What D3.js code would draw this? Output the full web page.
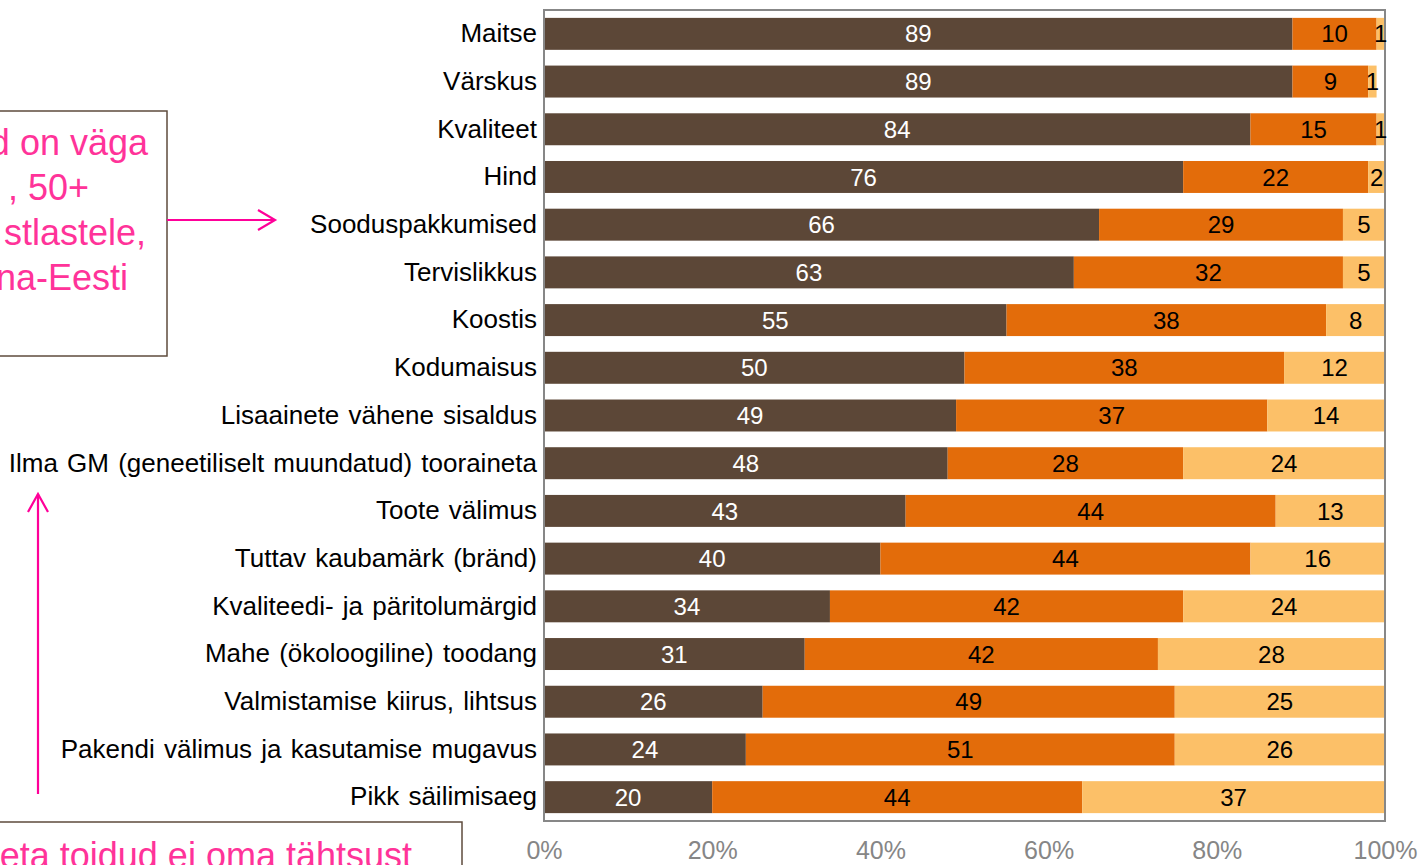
<!DOCTYPE html>
<html>
<head>
<meta charset="utf-8">
<script src="https://cdn.jsdelivr.net/npm/d3@7"></script>
<style>
  html, body { margin: 0; padding: 0; background: #fff; overflow: hidden; }
  svg { display: block; font-family: "Liberation Sans", Arial, sans-serif; }
</style>
</head>
<body>
<svg id="chart" width="1422" height="865"></svg>
<script>
// Food choice factors: share of respondents (%) by importance level
const categories = [
  "Maitse", "Värskus", "Kvaliteet", "Hind", "Sooduspakkumised", "Tervislikkus",
  "Koostis", "Kodumaisus", "Lisaainete vähene sisaldus",
  "Ilma GM (geneetiliselt muundatud) tooraineta", "Toote välimus",
  "Tuttav kaubamärk (bränd)", "Kvaliteedi- ja päritolumärgid",
  "Mahe (ökoloogiline) toodang", "Valmistamise kiirus, lihtsus",
  "Pakendi välimus ja kasutamise mugavus", "Pikk säilimisaeg"
];
const veryImportant = [89, 89, 84, 76, 66, 63, 55, 50, 49, 48, 43, 40, 34, 31, 26, 24, 20];
const important     = [10,  9, 15, 22, 29, 32, 38, 38, 37, 28, 44, 44, 42, 42, 49, 51, 44];
const notImportant  = [ 1,  1,  1,  2,  5,  5,  8, 12, 14, 24, 13, 16, 24, 28, 25, 26, 37];
const tickValues = [0, 20, 40, 60, 80, 100];

const seriesKeys = ["veryImportant", "important", "notImportant"];
const seriesColors = ["#5C4737", "#E36C0A", "#FCC068"];
const labelColors = ["#ffffff", "#000000", "#000000"];

const rows = categories.map((c, i) => ({
  category: c,
  veryImportant: veryImportant[i],
  important: important[i],
  notImportant: notImportant[i]
}));

const svg = d3.select("#chart");
const plot = { left: 544, right: 1385, top: 10, bottom: 821 };

const x = d3.scaleLinear().domain([0, 100]).range([plot.left, plot.right]);
const y = d3.scaleBand().domain(categories).range([plot.top, plot.bottom])
  .paddingInner(0.33).paddingOuter(0.165);

const stacked = d3.stack().keys(seriesKeys)(rows);

svg.append("defs").append("clipPath").attr("id", "plotClip")
  .append("rect")
  .attr("x", plot.left).attr("y", plot.top)
  .attr("width", plot.right - plot.left).attr("height", plot.bottom - plot.top);

// Stacked bar segments
const barLayer = svg.append("g").attr("clip-path", "url(#plotClip)");
stacked.forEach((layer, si) => {
  barLayer.append("g").selectAll("rect")
    .data(layer)
    .join("rect")
    .attr("x", d => x(d[0]))
    .attr("y", d => y(d.data.category))
    .attr("width", d => Math.max(0, x(d[1]) - x(d[0])))
    .attr("height", y.bandwidth())
    .attr("fill", seriesColors[si]);
});

// Plot frame
svg.append("rect")
  .attr("x", plot.left).attr("y", plot.top)
  .attr("width", plot.right - plot.left).attr("height", plot.bottom - plot.top)
  .attr("fill", "none").attr("stroke", "#878787").attr("stroke-width", 2);

// Segment value labels
stacked.forEach((layer, si) => {
  svg.append("g").selectAll("text")
    .data(layer)
    .join("text")
    .attr("x", d => (x(d[0]) + Math.min(x(d[1]), plot.right)) / 2)
    .attr("y", d => y(d.data.category) + y.bandwidth() / 2)
    .attr("dy", "0.36em")
    .attr("text-anchor", "middle")
    .attr("font-size", 24)
    .attr("fill", labelColors[si])
    .text(d => d[1] - d[0]);
});

// Category axis labels
const yAxis = d3.axisLeft(y).tickSize(0).tickPadding(7);
const yg = svg.append("g").attr("transform", `translate(${plot.left},0)`).call(yAxis);
yg.select(".domain").remove();
yg.selectAll("text")
  .attr("font-size", 26)
  .attr("font-family", "Liberation Sans, Arial, sans-serif")
  .attr("fill", "#000")
  .attr("word-spacing", 2);

// Percentage axis labels
const xAxis = d3.axisBottom(x).tickValues(tickValues).tickSize(0).tickPadding(0)
  .tickFormat(d => d + "%");
const xg = svg.append("g").attr("transform", `translate(0,${plot.bottom})`).call(xAxis);
xg.select(".domain").remove();
xg.selectAll("text")
  .attr("font-size", 25)
  .attr("font-family", "Liberation Sans, Arial, sans-serif")
  .attr("fill", "#868686")
  .attr("y", 38)
  .attr("dy", 0);

// Callout boxes with notes
const pink = "#FF3399";
const arrowPink = "#FF0099";
const boxStroke = "#5E4B3C";

svg.append("rect")
  .attr("x", -10).attr("y", 111).attr("width", 177).attr("height", 245)
  .attr("fill", "#fff").attr("stroke", boxStroke).attr("stroke-width", 1.5);

const noteLines = [
  { t: "d on väga", x: 148, y: 155 },
  { t: ", 50+", x: 89, y: 200 },
  { t: "stlastele,", x: 146, y: 245 },
  { t: "na-Eesti", x: 128, y: 290 }
];
svg.append("g").selectAll("text").data(noteLines).join("text")
  .attr("x", d => d.x).attr("y", d => d.y)
  .attr("text-anchor", "end")
  .attr("font-size", 36)
  .attr("fill", pink)
  .text(d => d.t);

svg.append("rect")
  .attr("x", -10).attr("y", 822).attr("width", 472).attr("height", 80)
  .attr("fill", "#fff").attr("stroke", boxStroke).attr("stroke-width", 1.5);
svg.append("text")
  .attr("x", 412).attr("y", 868)
  .attr("text-anchor", "end")
  .attr("font-size", 36)
  .attr("fill", pink)
  .text("eta toidud ei oma tähtsust");

// Arrows
const arrows = svg.append("g").attr("stroke", arrowPink).attr("fill", "none")
  .attr("stroke-width", 2.2);
arrows.append("line").attr("x1", 167).attr("y1", 220).attr("x2", 275).attr("y2", 220);
arrows.append("polyline").attr("points", "258,210 275,220 258,230");
arrows.append("line").attr("x1", 38).attr("y1", 794).attr("x2", 38).attr("y2", 494);
arrows.append("polyline").attr("points", "28,512 38,494 48,512");
</script>
</body>
</html>
